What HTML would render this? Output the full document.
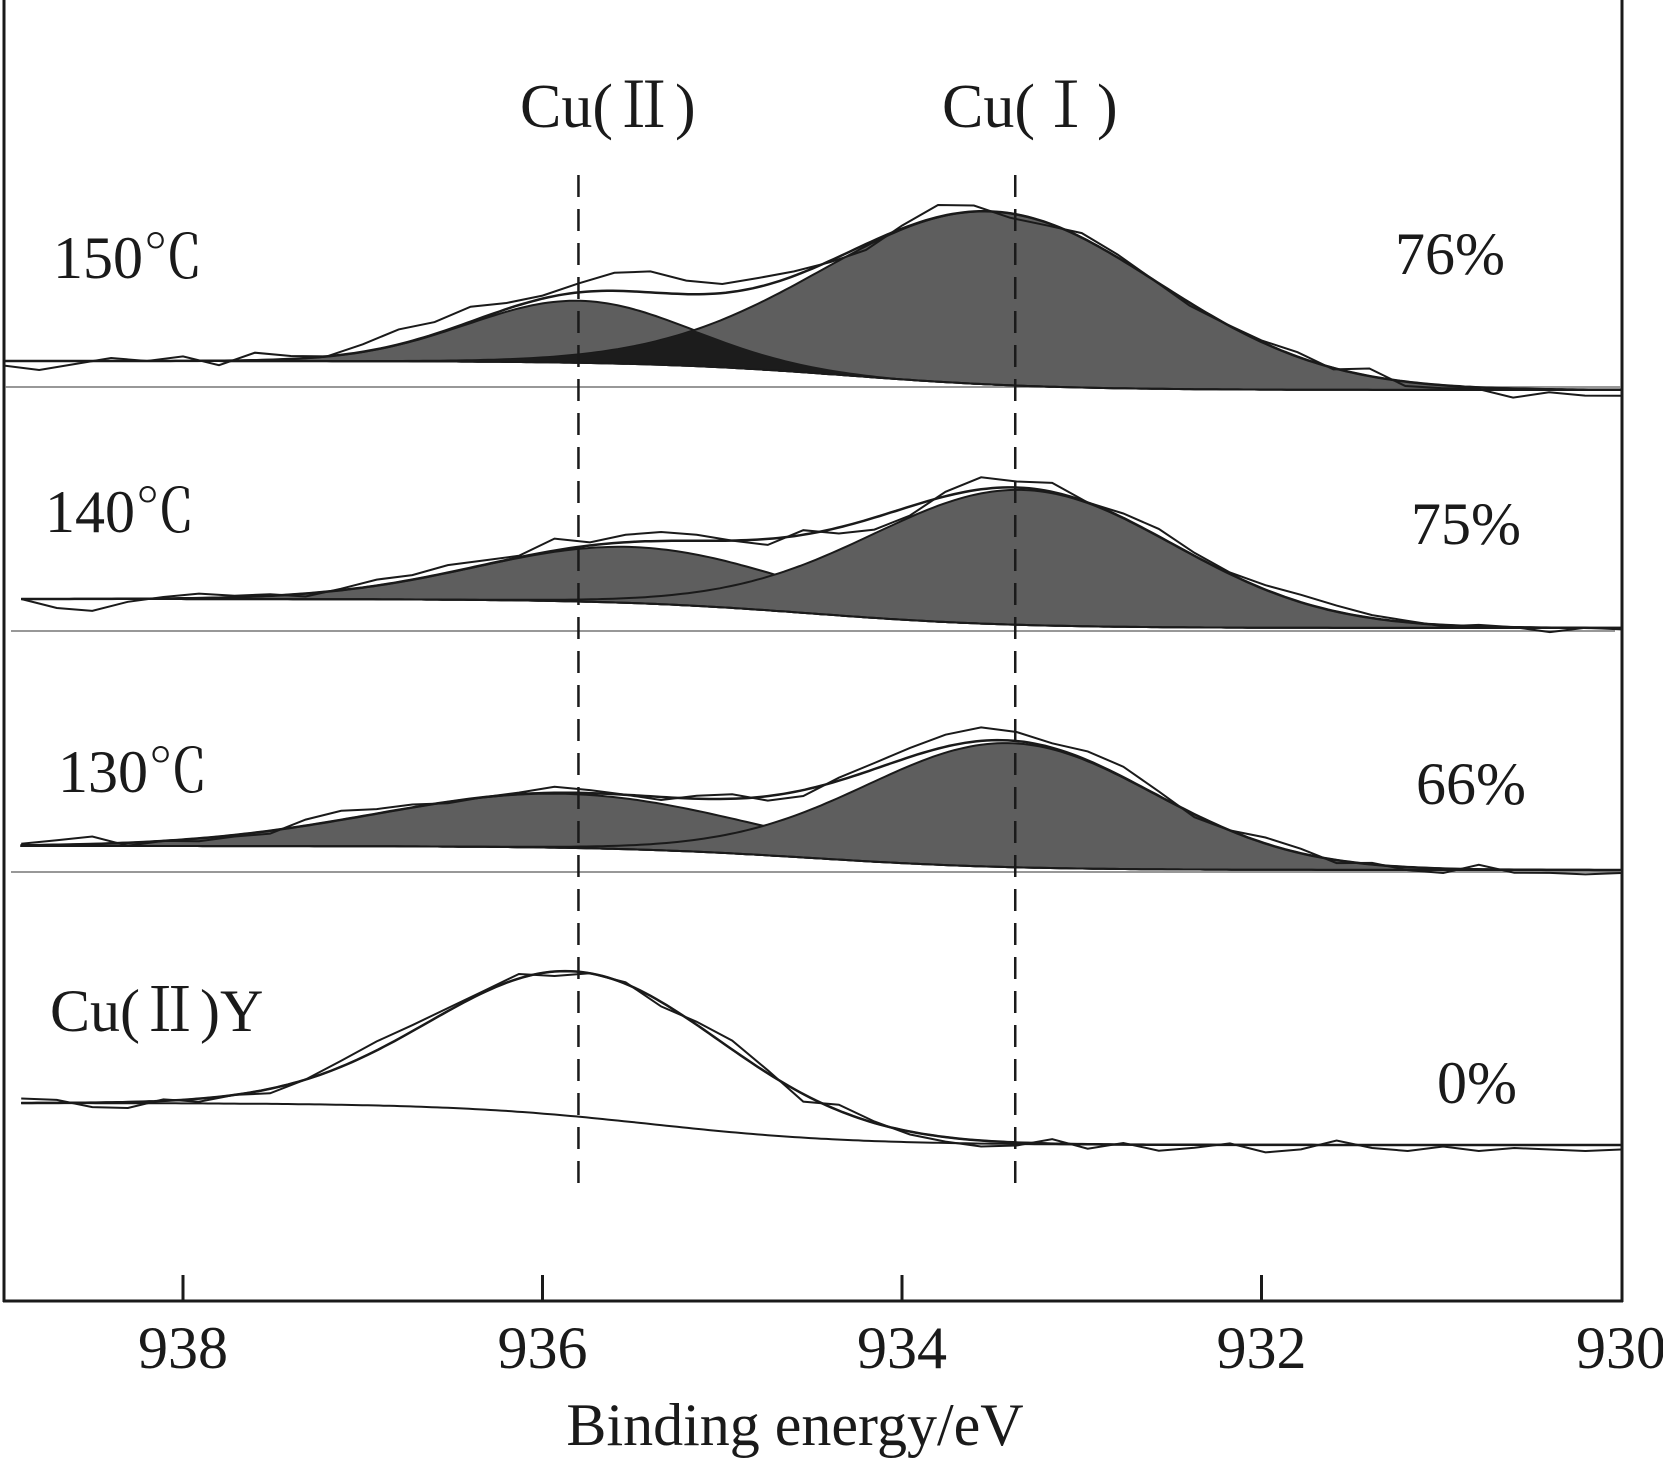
<!DOCTYPE html>
<html><head><meta charset="utf-8"><style>
html,body{margin:0;padding:0;background:#fff}
svg{display:block}
text{font-family:"Liberation Serif","Noto Serif CJK SC",serif;fill:#1a1a1a}
</style></head><body>
<svg id="chart" width="1663" height="1464" viewBox="0 0 1663 1464" xmlns="http://www.w3.org/2000/svg">
<g id="frame">
<line x1="4" y1="0" x2="4" y2="1302" stroke="#1a1a1a" stroke-width="3"/>
<line x1="1622" y1="0" x2="1622" y2="1302" stroke="#1a1a1a" stroke-width="3"/>
<line x1="3" y1="1301" x2="1623" y2="1301" stroke="#1a1a1a" stroke-width="3"/>
<line x1="5" y1="387" x2="1621" y2="387" stroke="#777" stroke-width="1.5"/>
<line x1="11" y1="631" x2="1615" y2="631" stroke="#777" stroke-width="1.5"/>
<line x1="11" y1="872" x2="1621" y2="872" stroke="#777" stroke-width="1.5"/>
</g>
<g id="ticks"></g>
<g id="panels"></g>
<g id="dashes"></g>
<text x="520" y="127" font-size="62">Cu(Ⅱ)</text>
<text x="942" y="127" font-size="62">Cu(Ⅰ)</text>
<text x="53" y="278" font-size="60">150℃</text>
<text x="45" y="532" font-size="60">140℃</text>
<text x="58" y="792" font-size="60">130℃</text>
<text x="50" y="1031" font-size="60">Cu(Ⅱ)Y</text>
<text x="1395" y="274" font-size="60">76%</text>
<text x="1411" y="544" font-size="60">75%</text>
<text x="1416" y="804" font-size="60">66%</text>
<text x="1437" y="1103" font-size="60">0%</text>
<text x="795" y="1445" font-size="60" text-anchor="middle">Binding energy/eV</text>
</svg>
<script>
// axis
const tickValues = [938, 936, 934, 932, 930];
const tickLabels = ["938", "936", "934", "932", "930"];
const refLines = [935.8, 933.37];
// panels: baseline levels (intensity, higher = up), peaks [center, height, fwhm]
const panelNames = ["150C", "140C", "130C", "Cu2Y"];
const panelOffsets = [390, 628, 870, 1145];
const bgLeft = [29, 29, 24, 42];
const bgRight = [0, 0, 0, 0];
const bgCenter = [934.3, 934.5, 934.5, 935.4];
const peak1 = [[935.8, 62, 1.45], [935.5, 56, 2.0], [935.9, 54, 2.4], [935.8, 145, 1.9]];
const peak2 = [[933.5, 173, 2.2], [933.33, 135, 2.0], [933.4, 124, 1.9], null];
const filled = [true, true, true, false];
const darkOverlap = [true, false, false, false];
const raw150 = [-3,-6,-2,2,0,3,-3,5,2,0,5,10,8,10,4,2,6,12,14,9,6,6,3,-1,-4,2,8,4,-3,-2,3,2,0,-2,0,1,3,-1,5,-3,-2,-1,-6,-2,-4,-4];
const raw140 = [0,-6,-8,-2,1,3,1,1,-2,1,4,3,5,3,1,8,2,5,6,4,0,-4,3,-4,-8,-6,3,8,4,6,0,3,5,2,1,3,5,4,2,1,-1,1,0,-3,0,-1];
const raw130 = [1,3,5,-2,0,-2,-1,-2,4,6,3,2,-1,0,1,4,2,0,-2,2,3,-3,-4,2,4,6,8,9,6,3,6,7,3,-2,0,4,3,-2,1,-2,-3,3,-2,-2,-3,-2];
const rawY = [3,2,-3,-4,1,-2,0,-3,0,4,6,4,2,1,3,-3,0,1,-3,2,6,2,-5,4,1,-2,-3,-4,-2,3,-3,1,-4,-2,1,-5,-3,3,-2,-4,-1,-4,-2,-3,-4,-3];
const rawNoise = [raw150, raw140, raw130, rawY];
const noiseScale = 1.5;

const NS = "http://www.w3.org/2000/svg";
const xOf = e => 183 + (938 - e) * 179.75;
function gauss(e, p){ if(!p) return 0; const s = p[2] / 2.3548; return p[1] * Math.exp(-0.5 * ((e - p[0]) / s) ** 2); }
function bg(i, e){ return bgRight[i] + (bgLeft[i] - bgRight[i]) / (1 + Math.exp(-(e - bgCenter[i]) / 0.55)); }
const yOf = (i, v) => panelOffsets[i] - v;
function mk(tag, attrs, parent){ const el = document.createElementNS(NS, tag); for (const k in attrs) el.setAttribute(k, attrs[k]); parent.appendChild(el); return el; }
function pathFrom(i, fn, e0, e1, n){ let d = ""; for (let k = 0; k <= n; k++){ const e = e0 + (e1 - e0) * k / n; d += (k ? "L" : "M") + xOf(e).toFixed(1) + " " + yOf(i, fn(e)).toFixed(1); } return d; }

const ticksG = document.getElementById("ticks");
tickValues.forEach((t, k) => {
  if (k < tickValues.length - 1) {
    const l = mk("line", {x1: xOf(t), x2: xOf(t), y1: 1275, y2: 1301, stroke: "#1a1a1a", "stroke-width": 3}, ticksG);
    
    
  }
  const tx = mk("text", {x: xOf(t), y: 1368, "font-size": 60, "text-anchor": "middle"}, ticksG);
  tx.textContent = tickLabels[k];
  
  
});

const panelsG = document.getElementById("panels");
const E1 = 930, N = 300;
panelNames.forEach((nm, i) => {
  const g = mk("g", {}, panelsG);
  
  
  const start = i === 0 ? 939 : 938.9;
  if (filled[i]) {
    [peak1[i], peak2[i]].forEach((p, j) => {
      if (!p) return;
      const top = pathFrom(i, e => bg(i, e) + gauss(e, p), start, E1, N);
      let back = ""; for (let k = N; k >= 0; k--){ const e = start + (E1 - start) * k / N; back += "L" + xOf(e).toFixed(1) + " " + yOf(i, bg(i, e)).toFixed(1); }
      const f = mk("path", {d: top + back + "Z", fill: "#5e5e5e", stroke: "#1a1a1a", "stroke-width": 2}, g);
      
      
    });
    if (darkOverlap[i]) {
      const top = pathFrom(i, e => bg(i, e) + Math.min(gauss(e, peak1[i]), gauss(e, peak2[i])), start, E1, N);
      let back = ""; for (let k = N; k >= 0; k--){ const e = start + (E1 - start) * k / N; back += "L" + xOf(e).toFixed(1) + " " + yOf(i, bg(i, e)).toFixed(1); }
      const f = mk("path", {d: top + back + "Z", fill: "#1c1c1c"}, g);
      
      
    }
  } else {
    const p = mk("path", {d: pathFrom(i, e => bg(i, e) + gauss(e, peak1[i]), start, E1, N), fill: "none", stroke: "#1a1a1a", "stroke-width": 2}, g);
    
    
  }
  const b = mk("path", {d: pathFrom(i, e => bg(i, e), start, E1, N), fill: "none", stroke: "#1a1a1a", "stroke-width": 2}, g);
  
  
  const env = mk("path", {d: pathFrom(i, e => bg(i, e) + gauss(e, peak1[i]) + gauss(e, peak2[i]), start, E1, N), fill: "none", stroke: "#1a1a1a", "stroke-width": 2.5}, g);
  
  
  const noise = rawNoise[i]; let d = "";
  noise.forEach((r, k) => {
    const e = start + (E1 - start) * k / (noise.length - 1);
    const v = bg(i, e) + gauss(e, peak1[i]) + gauss(e, peak2[i]) + r * noiseScale;
    d += (k ? "L" : "M") + xOf(e).toFixed(1) + " " + yOf(i, v).toFixed(1);
  });
  const rw = mk("path", {d: d, fill: "none", stroke: "#1a1a1a", "stroke-width": 2}, g);
  
  
});

const dashG = document.getElementById("dashes");
refLines.forEach((e, k) => {
  const l = mk("line", {x1: xOf(e), x2: xOf(e), y1: 175, y2: 1193, stroke: "#1a1a1a", "stroke-width": 2.5, "stroke-dasharray": "22 12"}, dashG);
  
  
});
</script>
</body></html>
